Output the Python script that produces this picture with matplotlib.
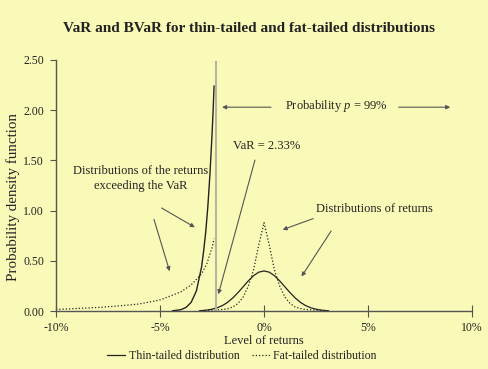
import matplotlib
matplotlib.use("Agg")
import matplotlib.pyplot as plt
from matplotlib.lines import Line2D

# returns in %, densities
thin_x = [-3.1, -3.0, -2.75, -2.5, -2.25, -2.0, -1.75, -1.5, -1.25, -1.0, -0.75, -0.5, -0.25,
          0.0, 0.25, 0.5, 0.75, 1.0, 1.25, 1.5, 1.75, 2.0, 2.25, 2.5, 2.75, 3.0, 3.1]
thin_y = [0.003, 0.004, 0.009, 0.018, 0.032, 0.054, 0.086, 0.130, 0.183, 0.242, 0.301, 0.352, 0.387,
          0.399, 0.387, 0.352, 0.301, 0.242, 0.183, 0.130, 0.086, 0.054, 0.032, 0.018, 0.009, 0.004, 0.003]

fat_x = [-3.0, -2.5, -2.0, -1.75, -1.5, -1.25, -1.0, -0.75, -0.5, -0.25,
         0.0, 0.25, 0.5, 0.75, 1.0, 1.25, 1.5, 1.75, 2.0, 2.5, 2.8]
fat_y = [0.004, 0.008, 0.015, 0.022, 0.04, 0.075, 0.14, 0.25, 0.41, 0.66,
         0.88, 0.66, 0.41, 0.25, 0.14, 0.075, 0.04, 0.025, 0.015, 0.008, 0.005]

# tails beyond the VaR (truncated densities)
thin_tail_x = [-4.4, -4.0, -3.75, -3.5, -3.25, -3.0, -2.9, -2.8, -2.7, -2.6, -2.5, -2.45, -2.4]
thin_tail_y = [0.002, 0.013, 0.035, 0.087, 0.20, 0.44, 0.60, 0.79, 1.04, 1.36, 1.75, 1.98, 2.24]

fat_tail_x = [-10.0, -9.0, -8.0, -7.0, -6.0, -5.5, -5.0, -4.5, -4.0, -3.5, -3.0, -2.75, -2.5, -2.4]
fat_tail_y = [0.015, 0.025, 0.035, 0.05, 0.07, 0.09, 0.11, 0.15, 0.19, 0.26, 0.37, 0.47, 0.63, 0.72]

var_level = -2.33
var_top = 2.48

xticks = [-10, -5, 0, 5, 10]
xlabels = ["-10%", "-5%", "0%", "5%", "10%"]
yticks = [0, 0.5, 1.0, 1.5, 2.0, 2.5]

bg = "#FAFAB8"
ink = "#222222"
plt.rcParams["font.family"] = "Liberation Serif"
plt.rcParams["mathtext.fontset"] = "custom"
plt.rcParams["mathtext.it"] = "Liberation Serif:italic"
plt.rcParams["mathtext.rm"] = "Liberation Serif"

fig = plt.figure(figsize=(4.88, 3.69), dpi=100, facecolor=bg)
ax = fig.add_axes([56 / 488, 1 - 311 / 369, 416 / 488, 251 / 369], facecolor=bg)

dots = (0, (1, 1.6))
ax.plot(thin_x, thin_y, color=ink, lw=0.9)
ax.plot(fat_x, fat_y, color=ink, lw=0.9, linestyle=dots)
ax.plot(thin_tail_x, thin_tail_y, color=ink, lw=1.0)
ax.plot(fat_tail_x, fat_tail_y, color=ink, lw=0.9, linestyle=dots)
ax.plot([var_level, var_level], [0, var_top], color="#B4B4A0", lw=1.5)

ax.set_xlim(-10, 10)
ax.set_ylim(0, 2.5)
ax.set_xticks(xticks)
ax.set_xticklabels(xlabels)
ax.set_yticks(yticks)
ax.set_yticklabels(["%.2f" % v for v in yticks])
for s in ["top", "right"]:
    ax.spines[s].set_visible(False)
for s in ["left", "bottom"]:
    ax.spines[s].set_color("#555555")
    ax.spines[s].set_linewidth(1.0)
ax.tick_params(axis="x", direction="inout", length=8, color="#555555", labelsize=8.5,
               labelcolor=ink, pad=4)
ax.tick_params(axis="y", direction="out", length=4, color="#555555", labelsize=8.5,
               labelcolor=ink, pad=4.5)
ax.set_xlabel("Level of returns", fontsize=9, color=ink, labelpad=1)
fig.text(13 / 488, 1 - 197 / 369, "Probability density function", rotation=90,
         ha="center", va="center", fontsize=10.8, color=ink)

fig.text(0.511, 1 - 28 / 369, "VaR and BVaR for thin-tailed and fat-tailed distributions",
         ha="center", va="center", fontsize=11, fontweight="bold", color=ink)

arr = dict(arrowstyle="-|>", color="#555555", lw=0.8, mutation_scale=6)
ax.text(3.5, 2.04, r"Probability $p$ = 99%", ha="center", va="center", fontsize=9, color=ink)
ax.annotate("", xy=(-2.15, 2.03), xytext=(0.47, 2.03), arrowprops=arr)
ax.annotate("", xy=(9.09, 2.03), xytext=(6.34, 2.03), arrowprops=arr)

ax.text(0.15, 1.64, "VaR = 2.33%", ha="center", va="center", fontsize=9, color=ink)
ax.annotate("", xy=(-2.23, 0.14), xytext=(-0.4, 1.53), arrowprops=arr)

ax.text(-5.92, 1.32, "Distributions of the returns\nexceeding the VaR", ha="center",
        va="center", fontsize=9, color=ink, linespacing=1.25)
ax.annotate("", xy=(-3.21, 0.82), xytext=(-5.04, 1.04), arrowprops=arr)
ax.annotate("", xy=(-4.5, 0.37), xytext=(-5.33, 0.94), arrowprops=arr)

ax.text(5.29, 1.02, "Distributions of returns", ha="center", va="center", fontsize=9, color=ink)
ax.annotate("", xy=(0.77, 0.80), xytext=(2.49, 0.93), arrowprops=arr)
ax.annotate("", xy=(1.73, 0.32), xytext=(3.30, 0.82), arrowprops=arr)

handles = [Line2D([], [], color=ink, lw=0.9),
           Line2D([], [], color=ink, lw=0.9, linestyle=dots)]
fig.legend(handles, ["Thin-tailed distribution", "Fat-tailed distribution"], ncol=2,
           loc="center", bbox_to_anchor=(0.496, 1 - 356 / 369), frameon=False,
           fontsize=8.6, handlelength=1.5, handletextpad=0.3, columnspacing=1.0,
           labelcolor=ink)

fig.savefig("out.png", dpi=100, facecolor=bg)
